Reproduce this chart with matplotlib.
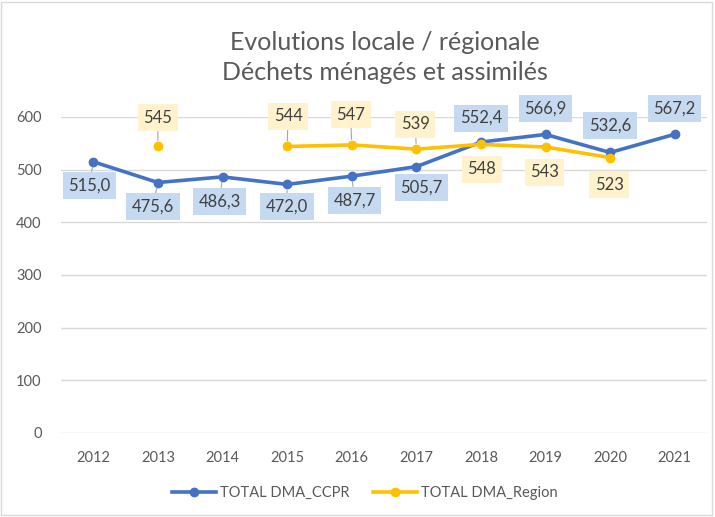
import numpy as np
import matplotlib
matplotlib.use("Agg")
import matplotlib.pyplot as plt
from matplotlib.patches import Rectangle

plt.rcParams['font.family'] = ['Lato', 'DejaVu Sans']

years = ['2012', '2013', '2014', '2015', '2016', '2017', '2018', '2019', '2020', '2021']
ccpr = [515.0, 475.6, 486.3, 472.0, 487.7, 505.7, 552.4, 566.9, 532.6, 567.2]
region = [np.nan, 545, np.nan, 544, 547, 539, 548, 543, 523, np.nan]
ccpr_labels = ['515,0', '475,6', '486,3', '472,0', '487,7', '505,7', '552,4', '566,9', '532,6', '567,2']
region_labels = ['', '545', '', '544', '547', '539', '548', '543', '523', '']
yticks = [0, 100, 200, 300, 400, 500, 600]
title = "Evolutions locale / régionale\nDéchets ménagés et assimilés"
series_names = ['TOTAL DMA_CCPR', 'TOTAL DMA_Region']

# label placement (pixel offsets) and leader flags
ccpr_off = [(-4, -24), (-5, -24), (-3, -25), (0, -22), (3, -24), (5, -21), (0, 24), (0, 26), (0, 27), (0, 26)]
ccpr_lead = [True, True, True, True, True, False, False, False, False, False]
reg_off = [None, (0, 28), None, (1, 30), (-1, 30), (-1, 25), (1, -25), (-1, -25), (-1, -27), None]
reg_lead = [False, True, False, True, True, True, False, False, False, False]

blue = '#4472C4'
yellow = '#FFC000'
blue_bg = '#C5DAF0'
yellow_bg = '#FFF2CC'
txt = '#404040'
grid = '#D9D9D9'

fig = plt.figure(figsize=(7.15, 5.17), dpi=100)
ax = fig.add_axes([61 / 715, (517 - 433) / 517, (707 - 61) / 715, (433 - 117) / 517])

x = np.arange(len(years))
ax.plot(x, ccpr, color=blue, lw=2.6, marker='o', ms=6, label=series_names[0], zorder=3)
ax.plot(x, region, color=yellow, lw=2.6, marker='o', ms=6, label=series_names[1], zorder=3)

ax.set_xlim(-0.5, len(years) - 0.5)
ax.set_ylim(0, 600)
ax.set_yticks(yticks)
ax.set_xticks(x)
ax.set_xticklabels(years)
ax.yaxis.grid(True, color=grid, lw=1)
ax.set_axisbelow(True)
for s in ax.spines.values():
    s.set_visible(False)
ax.tick_params(length=0, labelsize=10.5, colors='#595959')
ax.tick_params(axis='x', pad=13)
ax.tick_params(axis='y', pad=14)


def label(xi, yi, text, off, bg, lead):
    arrow = dict(arrowstyle='-', color='#A6A6A6', lw=0.8, shrinkA=0, shrinkB=4) if lead else None
    ax.annotate(text, xy=(xi, yi), xytext=off, textcoords='offset pixels',
                ha='center', va='center', fontsize=12, color=txt,
                bbox=dict(boxstyle='square,pad=0.33', fc=bg, ec='none'),
                arrowprops=arrow, zorder=5, annotation_clip=False)


for i in range(len(years)):
    label(x[i], ccpr[i], ccpr_labels[i], ccpr_off[i], blue_bg, ccpr_lead[i])
    if not np.isnan(region[i]):
        label(x[i], region[i], region_labels[i], reg_off[i], yellow_bg, reg_lead[i])

fig.text(0.538, 0.889, title, ha='center', va='center', fontsize=18, color='#595959', linespacing=1.35)

fig.legend(loc='center', bbox_to_anchor=(0.51, 0.046), ncol=2, frameon=False,
           fontsize=10.5, handlelength=3.0, columnspacing=1.6, handletextpad=0.3,
           labelcolor='#595959')

fig.patches.append(Rectangle((0.002, 0.003), 0.994, 0.993, transform=fig.transFigure,
                             fill=False, edgecolor='#D9D9D9', lw=1))

fig.savefig('out.png', dpi=100, facecolor='white')
